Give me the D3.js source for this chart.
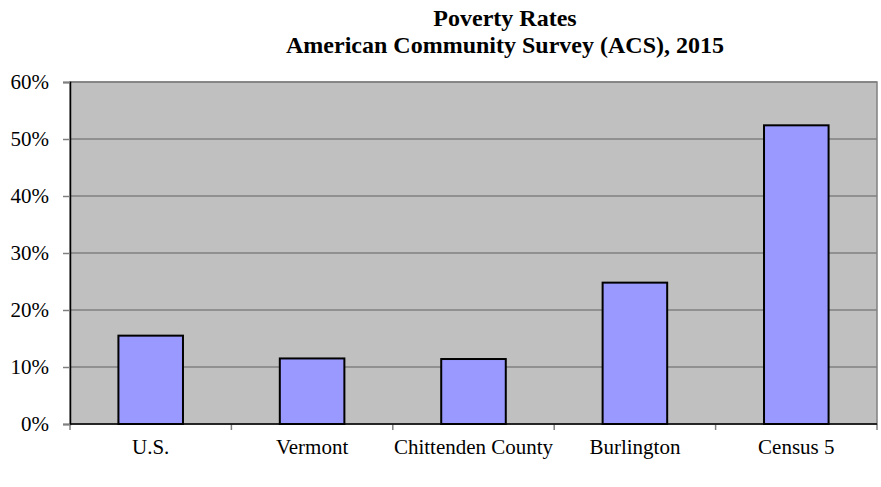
<!DOCTYPE html>
<html lang="en">
<head>
<meta charset="UTF-8">
<title>Poverty Rates</title>
<script src="https://d3js.org/d3.v7.min.js"></script>
<style>
    body { margin: 0; background: #fff; }
    svg { display: block; font-family: "Liberation Serif", "Times New Roman", serif; }
</style>
</head>
<body>
<svg id="chart"></svg>
<script>
    const places = ["U.S.", "Vermont", "Chittenden County", "Burlington", "Census 5"];
    const rates = [0.155, 0.115, 0.114, 0.248, 0.524];
    const yTicks = [0, 0.1, 0.2, 0.3, 0.4, 0.5, 0.6];
    const titleLines = ["Poverty Rates", "American Community Survey (ACS), 2015"];

    const width = 881, height = 487;
    const plotLeft = 70, plotRight = 877, plotTop = 82, plotBottom = 424;

    const svg = d3.select("#chart").attr("width", width).attr("height", height);

    const x = d3.scaleBand().domain(places).range([plotLeft, plotRight])
        .paddingInner(0.6).paddingOuter(0.3);
    const y = d3.scaleLinear().domain([0, 0.6]).range([plotBottom, plotTop]);

    // plot area
    svg.append("rect")
        .attr("x", plotLeft).attr("y", plotTop)
        .attr("width", plotRight - plotLeft).attr("height", plotBottom - plotTop)
        .attr("fill", "#c0c0c0")
        .attr("stroke", "#808080").attr("stroke-width", 1.5);

    // gridlines
    svg.append("g").selectAll("line")
        .data(yTicks.slice(1))
        .join("line")
        .attr("x1", plotLeft).attr("x2", plotRight)
        .attr("y1", d => y(d)).attr("y2", d => y(d))
        .attr("stroke", "#808080").attr("stroke-width", 1.5);

    // bars
    svg.append("g").selectAll("rect")
        .data(places)
        .join("rect")
        .attr("x", d => x(d))
        .attr("y", (d, i) => y(rates[i]))
        .attr("width", x.bandwidth())
        .attr("height", (d, i) => y(0) - y(rates[i]))
        .attr("fill", "#9999ff")
        .attr("stroke", "#000").attr("stroke-width", 2);

    // y axis
    const yAxis = svg.append("g")
        .attr("transform", `translate(${plotLeft},0)`)
        .call(d3.axisLeft(y).tickValues(yTicks).tickFormat(d3.format(".0%"))
            .tickSize(7).tickPadding(14));
    yAxis.select(".domain").attr("stroke", "#000").attr("stroke-width", 1.5);
    yAxis.selectAll(".tick line").attr("stroke", "#808080").attr("stroke-width", 1.5);
    yAxis.selectAll("text").attr("font-size", 21).attr("fill", "#000")
        .attr("font-family", "Liberation Serif");

    // x axis: ticks at category boundaries
    const bounds = d3.range(places.length + 1).map(i => plotLeft + i * x.step());
    svg.append("g").selectAll("line")
        .data(bounds)
        .join("line")
        .attr("x1", d => d).attr("x2", d => d)
        .attr("y1", plotBottom).attr("y2", plotBottom + 6)
        .attr("stroke", "#808080").attr("stroke-width", 1.5);
    svg.append("line")
        .attr("x1", plotLeft).attr("x2", plotRight)
        .attr("y1", plotBottom).attr("y2", plotBottom)
        .attr("stroke", "#000").attr("stroke-width", 1.5);
    svg.append("g").selectAll("text")
        .data(places)
        .join("text")
        .attr("x", d => x(d) + x.bandwidth() / 2)
        .attr("y", 454)
        .attr("text-anchor", "middle")
        .attr("font-size", 21)
        .text(d => d);

    // title
    svg.append("g").selectAll("text")
        .data(titleLines)
        .join("text")
        .attr("x", 505)
        .attr("y", (d, i) => 26 + i * 27)
        .attr("text-anchor", "middle")
        .attr("font-size", 24)
        .attr("font-weight", "bold")
        .text(d => d);
</script>
</body>
</html>
